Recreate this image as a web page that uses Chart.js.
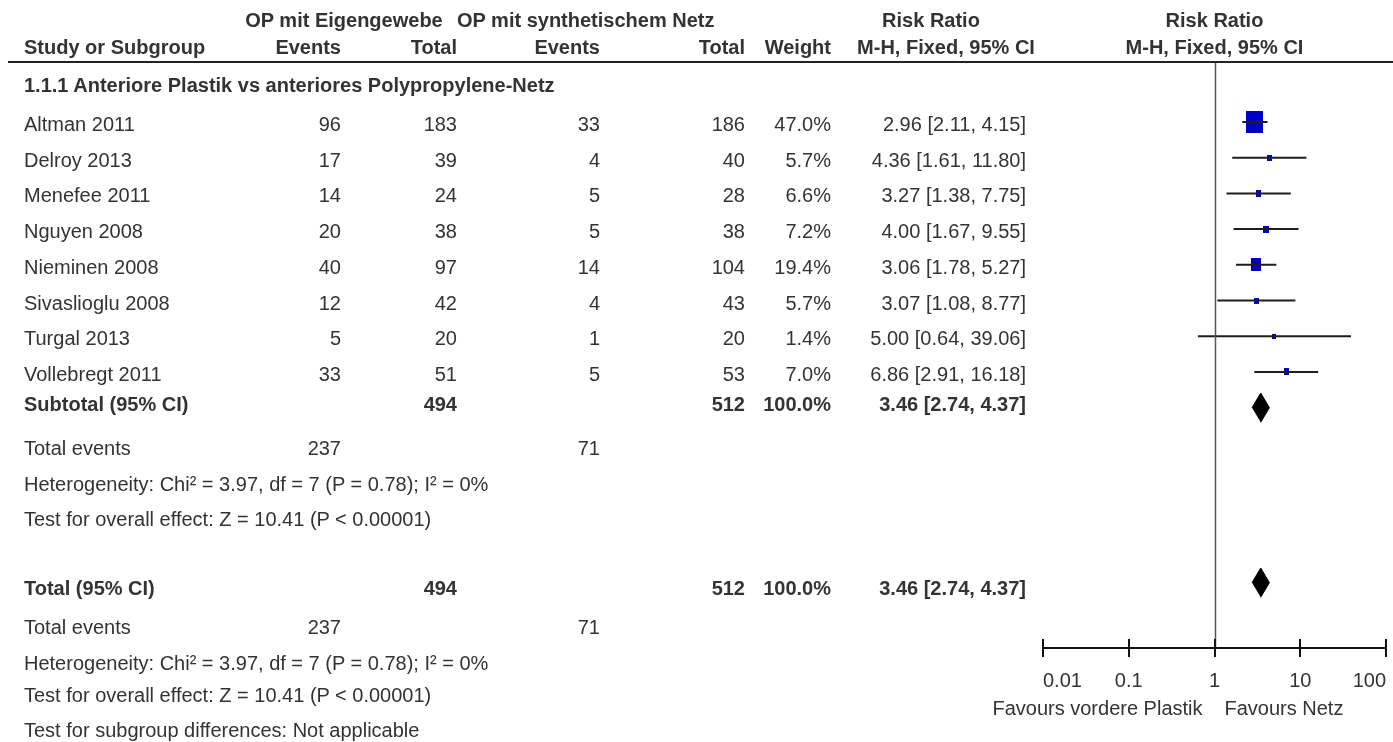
<!DOCTYPE html>
<html>
<head>
<meta charset="utf-8">
<script src="https://cdn.jsdelivr.net/npm/chart.js@4.4.1/dist/chart.umd.min.js"></script>
<style>
  html, body { margin: 0; padding: 0; background: #fff; }
  #page { position: relative; width: 1393px; height: 742px; overflow: hidden; }
  #plot { position: absolute; left: 0; top: 0; }
  .t { position: absolute; white-space: nowrap; font: 20px 'Liberation Sans', Arial, sans-serif;
       line-height: 24px; color: #333; }
  .b { font-weight: bold; }
  #rule { position: absolute; left: 8px; top: 61px; width: 1385px; height: 2px; background: #222; }
</style>
</head>
<body>
<div id="page">
  <canvas id="plot" width="1393" height="742"></canvas>
  <div id="rule"></div>
</div>
<script>
// --- data ---
const studies = ['Altman 2011', 'Delroy 2013', 'Menefee 2011', 'Nguyen 2008', 'Nieminen 2008',
                 'Sivaslioglu 2008', 'Turgal 2013', 'Vollebregt 2011'];
const eventsOwn = [96, 17, 14, 20, 40, 12, 5, 33];
const totalOwn = [183, 39, 24, 38, 97, 42, 20, 51];
const eventsMesh = [33, 4, 5, 5, 14, 4, 1, 5];
const totalMesh = [186, 40, 28, 38, 104, 43, 20, 53];
const weights = [47.0, 5.7, 6.6, 7.2, 19.4, 5.7, 1.4, 7.0];
const rr = [2.96, 4.36, 3.27, 4.00, 3.06, 3.07, 5.00, 6.86];
const ciLow = [2.11, 1.61, 1.38, 1.67, 1.78, 1.08, 0.64, 2.91];
const ciHigh = [4.15, 11.80, 7.75, 9.55, 5.27, 8.77, 39.06, 16.18];

const pooledLabels = ['Subtotal (95% CI)', 'Total (95% CI)'];
const pooledRR = [3.46, 3.46];
const pooledLow = [2.74, 2.74];
const pooledHigh = [4.37, 4.37];
const pooledRows = [8, 12.9];
const sumOwn = 494, sumMesh = 512, sumEventsOwn = 237, sumEventsMesh = 71;

const tickValues = [0.01, 0.1, 1, 10, 100];

// --- layout (pixels) ---
const W = 1393;
const AXIS_Y = 648;
const COL = { study: 24, ev1: 341, tot1: 457, ev2: 600, tot2: 745, weight: 831, ci: 1026 };
const BLUE = '#0000c8';

// squares: height grows with weight, a bit narrower than tall
function squareImage(w) {
  const h = Math.max(5, 2.2 * Math.pow(w, 0.6));
  const c = document.createElement('canvas');
  c.width = Math.round(h * 0.77);
  c.height = Math.round(h);
  const g = c.getContext('2d');
  g.fillStyle = BLUE;
  g.fillRect(0, 0, c.width, c.height);
  return c;
}
const squareImgs = weights.map(squareImage);

const datasets = [];
studies.forEach((s, i) => {
  datasets.push({
    type: 'line',
    data: [{ x: ciLow[i], y: i }, { x: ciHigh[i], y: i }],
    borderColor: '#1e1e1e',
    borderWidth: 2,
    pointRadius: 0,
    fill: false
  });
});
datasets.push({
  type: 'scatter',
  data: rr.map((v, i) => ({ x: v, y: i })),
  pointStyle: squareImgs,
  pointRadius: 6
});
const DH = 0.41;
pooledRR.forEach((v, k) => {
  const r = pooledRows[k];
  datasets.push({
    type: 'line',
    data: [{ x: pooledLow[k], y: r }, { x: v, y: r - DH }, { x: pooledHigh[k], y: r }, { x: v, y: r + DH }],
    borderColor: '#000',
    borderWidth: 1,
    backgroundColor: '#000',
    pointRadius: 0,
    fill: 'shape'
  });
});

// draw the axis ticks (both sides of the axis) and the line of no effect
const forestLines = {
  id: 'forestLines',
  afterDatasetsDraw(chart) {
    const { ctx, chartArea, scales: { x } } = chart;
    ctx.save();
    ctx.strokeStyle = '#555';
    ctx.lineWidth = 1.5;
    const x1 = Math.round(x.getPixelForValue(1)) + 0.5;
    ctx.beginPath();
    ctx.moveTo(x1, chartArea.top);
    ctx.lineTo(x1, chartArea.bottom);
    ctx.stroke();
    ctx.strokeStyle = '#111';
    ctx.lineWidth = 2;
    ctx.beginPath();
    ctx.moveTo(x.getPixelForValue(0.01), chartArea.bottom);
    ctx.lineTo(x.getPixelForValue(100), chartArea.bottom);
    tickValues.forEach(v => {
      const px = Math.round(x.getPixelForValue(v));
      ctx.moveTo(px, chartArea.bottom - 9);
      ctx.lineTo(px, chartArea.bottom + 9);
    });
    ctx.stroke();
    ctx.restore();
  }
};

const chart = new Chart(document.getElementById('plot'), {
  type: 'scatter',
  data: { datasets },
  plugins: [forestLines],
  options: {
    responsive: false,
    animation: false,
    events: [],
    layout: { padding: { left: 1043, right: 1, top: 62, bottom: 0 } },
    plugins: { legend: { display: false }, tooltip: { enabled: false } },
    scales: {
      x: {
        type: 'logarithmic',
        min: 0.01,
        max: 100,
        afterBuildTicks: (scale) => { scale.ticks = tickValues.map(v => ({ value: v })); },
        afterFit: (scale) => { scale.height = 742 - AXIS_Y; },
        grid: { display: true, drawOnChartArea: false, tickLength: 21, tickColor: 'rgba(0,0,0,0)' },
        border: { display: false },
        ticks: {
          align: 'inner',
          autoSkip: false,
          maxRotation: 0,
          padding: 0,
          color: '#333',
          font: { family: "'Liberation Sans', Arial, sans-serif", size: 20 },
          callback: (v) => String(v)
        }
      },
      y: {
        type: 'linear',
        display: false,
        reverse: true,
        min: -1.68,
        max: 14.73
      }
    }
  }
});

// --- table text ---
const page = document.getElementById('page');
function put(txt, x, y, align, bold) {
  const el = document.createElement('div');
  el.className = 't' + (bold ? ' b' : '');
  el.textContent = txt;
  el.style.top = (y - 12) + 'px';
  if (align === 'right') {
    el.style.right = (W - x) + 'px';
  } else if (align === 'center') {
    el.style.left = x + 'px';
    el.style.transform = 'translateX(-50%)';
  } else {
    el.style.left = x + 'px';
  }
  page.appendChild(el);
}

const yAt = (r) => chart.scales.y.getPixelForValue(r) + 2;
const xOne = chart.scales.x.getPixelForValue(1);

put('OP mit Eigengewebe', 344, 20, 'center', true);
put('OP mit synthetischem Netz', 457, 20, 'left', true);
put('Risk Ratio', 931, 20, 'center', true);
put('Risk Ratio', xOne, 20, 'center', true);

put('Study or Subgroup', COL.study, 47, 'left', true);
put('Events', COL.ev1, 47, 'right', true);
put('Total', COL.tot1, 47, 'right', true);
put('Events', COL.ev2, 47, 'right', true);
put('Total', COL.tot2, 47, 'right', true);
put('Weight', COL.weight, 47, 'right', true);
put('M-H, Fixed, 95% CI', 946, 47, 'center', true);
put('M-H, Fixed, 95% CI', xOne, 47, 'center', true);

put('1.1.1 Anteriore Plastik vs anteriores Polypropylene-Netz', COL.study, 85, 'left', true);

const ciText = (e, l, h) => `${e.toFixed(2)} [${l.toFixed(2)}, ${h.toFixed(2)}]`;

studies.forEach((s, i) => {
  const y = yAt(i);
  put(s, COL.study, y, 'left');
  put(String(eventsOwn[i]), COL.ev1, y, 'right');
  put(String(totalOwn[i]), COL.tot1, y, 'right');
  put(String(eventsMesh[i]), COL.ev2, y, 'right');
  put(String(totalMesh[i]), COL.tot2, y, 'right');
  put(weights[i].toFixed(1) + '%', COL.weight, y, 'right');
  put(ciText(rr[i], ciLow[i], ciHigh[i]), COL.ci, y, 'right');
});

const hetText = 'Heterogeneity: Chi\u00b2 = 3.97, df = 7 (P = 0.78); I\u00b2 = 0%';
const zText = 'Test for overall effect: Z = 10.41 (P < 0.00001)';

[[404, 448, 484, 519], [588, 627, 663, 695]].forEach((ys, k) => {
  put(pooledLabels[k], COL.study, ys[0], 'left', true);
  put(String(sumOwn), COL.tot1, ys[0], 'right', true);
  put(String(sumMesh), COL.tot2, ys[0], 'right', true);
  put('100.0%', COL.weight, ys[0], 'right', true);
  put(ciText(pooledRR[k], pooledLow[k], pooledHigh[k]), COL.ci, ys[0], 'right', true);
  put('Total events', COL.study, ys[1], 'left');
  put(String(sumEventsOwn), COL.ev1, ys[1], 'right');
  put(String(sumEventsMesh), COL.ev2, ys[1], 'right');
  put(hetText, COL.study, ys[2], 'left');
  put(zText, COL.study, ys[3], 'left');
});
put('Test for subgroup differences: Not applicable', COL.study, 730, 'left');

put('Favours vordere Plastik', xOne - 12, 708, 'right');
put('Favours Netz', xOne + 10, 708, 'left');
</script>
</body>
</html>
